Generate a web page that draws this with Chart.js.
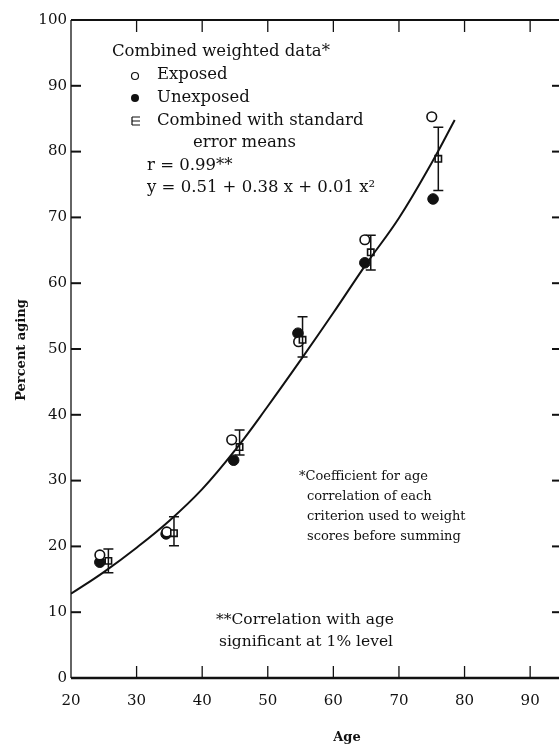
<!DOCTYPE html>
<html>
<head>
<meta charset="utf-8">
<script src="https://cdn.jsdelivr.net/npm/chart.js@4/dist/chart.umd.min.js"></script>
<style>
html,body{margin:0;padding:0;background:#fff;overflow:hidden;}
#wrap{width:559px;height:747px;position:relative;}
canvas{display:block;}
</style>
</head>
<body>
<div id="wrap"><canvas id="agingChart" width="559" height="747"></canvas></div>
<script>
// DATA

const exposedAge = [24.4, 34.6, 44.5, 54.7, 64.8, 75.0];
const exposedPct = [18.7, 22.2, 36.2, 51.1, 66.6, 85.3];

const unexposedAge = [24.4, 34.5, 44.8, 54.6, 64.8, 75.2];
const unexposedPct = [17.6, 21.9, 33.1, 52.4, 63.1, 72.8];

const combinedAge = [25.7, 35.7, 45.7, 55.3, 65.7, 76.0];
const combinedPct = [17.8, 22.0, 35.1, 51.4, 64.7, 78.9];
const combinedLow = [16.0, 20.1, 33.9, 48.8, 62.0, 74.1];
const combinedHigh = [19.6, 24.5, 37.7, 54.9, 67.3, 83.7];

const curveAge = [20, 25, 30, 35, 40, 45, 50, 55, 60, 65, 70, 75, 78.5];
const curvePct = [12.8, 16.1, 19.8, 23.9, 28.7, 34.6, 41.3, 48.3, 55.5, 62.9, 69.9, 78.3, 84.8];

const xTicks = [20, 30, 40, 50, 60, 70, 80, 90];
const yTicks = [0, 10, 20, 30, 40, 50, 60, 70, 80, 90, 100];

const legendLines = ["Combined weighted data*", "Exposed", "Unexposed", "Combined with standard", "error means", "r = 0.99**", "y = 0.51 + 0.38 x + 0.01 x\u00b2"];
const noteLines = ["*Coefficient for age", "correlation of each", "criterion used to weight", "scores before summing"];
const sigLines = ["**Correlation with age", "significant at 1% level"];

function pts(xs, ys){ return xs.map((x,i)=>({x:x, y:ys[i]})); }

const SERIF = "'DejaVu Serif', 'Liberation Serif', serif";

// inward tick marks, frame, error bars and the printed notes
const paperPlugin = {
id:"paper",
afterDatasetsDraw(chart){
const ctx = chart.ctx;
const xs = chart.scales.x, ys = chart.scales.y;
const a = chart.chartArea;
ctx.save();
ctx.strokeStyle = "#111";
ctx.lineCap = "butt";

// frame
ctx.lineWidth = 1.3;
ctx.beginPath(); ctx.moveTo(a.left, a.top); ctx.lineTo(a.left, a.bottom); ctx.stroke();
ctx.lineWidth = 2.2;
ctx.beginPath(); ctx.moveTo(a.left, a.top); ctx.lineTo(a.right, a.top); ctx.stroke();
ctx.lineWidth = 2.6;
ctx.beginPath(); ctx.moveTo(a.left, a.bottom); ctx.lineTo(a.right, a.bottom); ctx.stroke();

// ticks
ctx.lineWidth = 1.3;
xTicks.forEach(v=>{
if(v===20) return;
const px = xs.getPixelForValue(v);
ctx.beginPath(); ctx.moveTo(px, a.top); ctx.lineTo(px, a.top+12); ctx.stroke();
ctx.beginPath(); ctx.moveTo(px, a.bottom); ctx.lineTo(px, a.bottom-12); ctx.stroke();
});
ctx.lineWidth = 2;
yTicks.forEach(v=>{
if(v===0 || v===100) return;
const py = ys.getPixelForValue(v);
ctx.beginPath(); ctx.moveTo(a.left, py); ctx.lineTo(a.left+10, py); ctx.stroke();
ctx.beginPath(); ctx.moveTo(a.right, py); ctx.lineTo(a.right-7, py); ctx.stroke();
});

// error bars
ctx.lineWidth = 1.5;
combinedAge.forEach((age,i)=>{
const px = xs.getPixelForValue(age);
const lo = ys.getPixelForValue(combinedLow[i]);
const hi = ys.getPixelForValue(combinedHigh[i]);
ctx.beginPath();
ctx.moveTo(px, lo); ctx.lineTo(px, hi);
ctx.moveTo(px-5, lo); ctx.lineTo(px+5, lo);
ctx.moveTo(px-5, hi); ctx.lineTo(px+5, hi);
ctx.stroke();
});

// texts
ctx.fillStyle = "#111";
ctx.textBaseline = "middle";
ctx.textAlign = "left";
ctx.font = "16.5px " + SERIF;
ctx.fillText(legendLines[0], 112, 52);
ctx.fillText(legendLines[1], 157, 75);
ctx.fillText(legendLines[2], 157, 98);
ctx.fillText(legendLines[3], 157, 121);
ctx.fillText(legendLines[4], 193, 143);
ctx.fillText(legendLines[5], 147, 166);
ctx.fillText(legendLines[6], 147, 188);

// legend symbols
ctx.lineWidth = 1.2;
ctx.beginPath(); ctx.arc(135, 76, 3.5, 0, Math.PI*2); ctx.stroke();
ctx.beginPath(); ctx.arc(135, 98, 4, 0, Math.PI*2); ctx.fill();
ctx.beginPath();
ctx.moveTo(132, 117); ctx.lineTo(140, 117);
ctx.moveTo(132, 121); ctx.lineTo(140, 121);
ctx.moveTo(132, 125); ctx.lineTo(140, 125);
ctx.moveTo(132, 117); ctx.lineTo(132, 125);
ctx.stroke();

ctx.font = "13px " + SERIF;
ctx.fillText(noteLines[0], 299, 477);
ctx.fillText(noteLines[1], 307, 497);
ctx.fillText(noteLines[2], 307, 517);
ctx.fillText(noteLines[3], 307, 537);

ctx.font = "15.5px " + SERIF;
ctx.textAlign = "center";
ctx.fillText(sigLines[0], 305, 620);
ctx.fillText(sigLines[1], 306, 642);

// axis titles
ctx.font = "bold 13px " + SERIF;
ctx.fillText("Age", 347, 738);
ctx.translate(22, 350);
ctx.rotate(-Math.PI/2);
ctx.fillText("Percent aging", 0, 0);
ctx.restore();
}
};

const ctx = document.getElementById("agingChart");

new Chart(ctx,{
type:"scatter",
data:{
datasets:[
{
label:"Fit",
type:"line",
data:pts(curveAge, curvePct),
borderColor:"#111",
borderWidth:2,
pointRadius:0,
fill:false,
tension:0.4
},
{
label:"Combined",
data:pts(combinedAge, combinedPct),
pointStyle:"rect",
pointRadius:4.5,
backgroundColor:"#fff",
borderColor:"#111",
borderWidth:1.6
},
{
label:"Exposed",
data:pts(exposedAge, exposedPct),
pointRadius:4.8,
backgroundColor:"#fff",
borderColor:"#111",
borderWidth:1.6
},
{
label:"Unexposed",
data:pts(unexposedAge, unexposedPct),
pointRadius:5.3,
backgroundColor:"#111",
borderColor:"#111",
borderWidth:1
}
]
},
options:{
responsive:false,
animation:false,
devicePixelRatio:1,
layout:{autoPadding:false,padding:{top:20,right:0,left:0,bottom:0}},
plugins:{legend:{display:false},tooltip:{enabled:false}},
scales:{
x:{
type:"linear",
min:20,
max:94.4,
afterFit:(s)=>{ s.height = 69; s.paddingLeft = 0; s.paddingRight = 0; },
afterBuildTicks:(s)=>{ s.ticks = xTicks.map(v=>({value:v})); },
grid:{display:false,drawTicks:false},
border:{display:false},
ticks:{padding:14,color:"#111",font:{family:SERIF,size:15},maxRotation:0,autoSkip:false}
},
y:{
min:0,
max:100,
afterFit:(s)=>{ s.width = 71; s.paddingTop = 0; s.paddingBottom = 0; },
afterBuildTicks:(s)=>{ s.ticks = yTicks.map(v=>({value:v})); },
grid:{display:false,drawTicks:false},
border:{display:false},
ticks:{padding:4,color:"#111",font:{family:SERIF,size:15},autoSkip:false}
}
}
},
plugins:[paperPlugin]
});
</script>
</body>
</html>
